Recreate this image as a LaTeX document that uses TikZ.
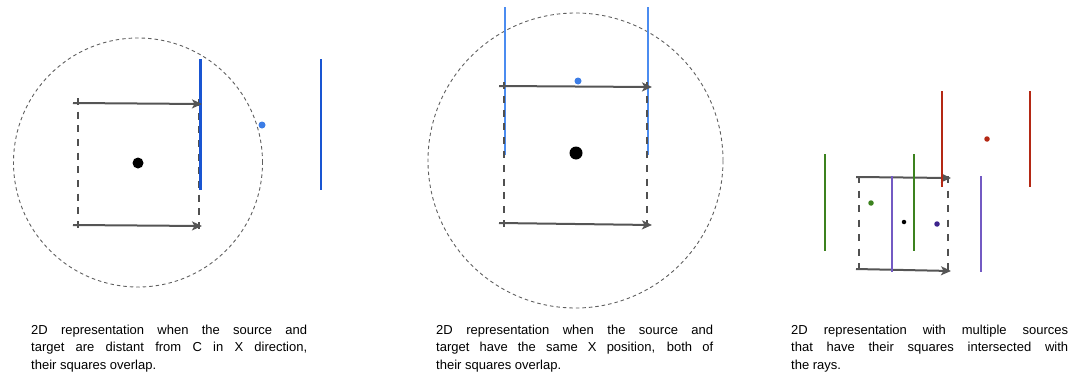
\documentclass[tikz,border=0pt]{standalone}
\usepackage{fontspec}
\setmainfont{Liberation Sans}
\usetikzlibrary{arrows.meta}
\definecolor{arrowgray}{RGB}{85,85,85}
\definecolor{dashgray}{RGB}{80,80,80}
\definecolor{circgray}{RGB}{95,95,95}
\definecolor{darkblue}{RGB}{25,85,210}
\definecolor{lightblue}{RGB}{75,140,240}
\definecolor{dotblue}{RGB}{60,125,230}
\definecolor{raygreen}{RGB}{60,130,30}
\definecolor{rayred}{RGB}{180,40,20}
\definecolor{raypurple}{RGB}{115,90,195}
\definecolor{dotpurple}{RGB}{60,35,140}
\tikzset{
 rangecirc/.style={draw=circgray, line width=0.9pt, dash pattern=on 3.5pt off 3pt, circle, inner sep=0pt},
 sqside/.style={draw=dashgray, line width=2pt, dash pattern=on 7pt off #1},
 sqside/.default=6.5pt,
 sqarrow/.style={draw=arrowgray, line width=2pt, -{Stealth[length=10pt,width=9pt,inset=2.5pt]}},
 rayline/.style={line width=2.2pt},
 dotnode/.style={circle, fill, inner sep=0pt},
 captext/.style={anchor=north west, inner sep=0pt, align=left, font=\fontsize{13}{17.3}\selectfont}
}
\begin{document}
\begin{tikzpicture}[x=1pt,y=-1pt]
\useasboundingbox (0,0) rectangle (1079,375);

% ---------------- panel 1 ----------------
\node[rangecirc, minimum size=249pt] (rng1) at (138,162.5) {};
\coordinate (s1tl) at (78,98);  \coordinate (s1bl) at (78,228);
\coordinate (s1tr) at (199,99); \coordinate (s1br) at (199,229);
\draw[sqside=6.67pt] (s1tl) -- (s1bl);
\draw[sqside=6.67pt] (s1tr) -- (s1br);
\coordinate (r1at) at (200.5,59); \coordinate (r1ab) at (200.5,190);
\coordinate (r1bt) at (321,59);   \coordinate (r1bb) at (321,190);
\draw[rayline, darkblue] (r1at) -- (r1ab);
\draw[rayline, darkblue] (r1bt) -- (r1bb);
\coordinate (a1s) at (73,103); \coordinate (a1e) at (202,104);
\coordinate (b1s) at (73,225); \coordinate (b1e) at (202,226);
\draw[sqarrow] (a1s) -- (a1e);
\draw[sqarrow] (b1s) -- (b1e);
\node[dotnode, fill=black, minimum size=11pt] (c1) at (138,163) {};
\node[dotnode, fill=dotblue, minimum size=7pt] (src1) at (262,125) {};

% ---------------- panel 2 ----------------
\node[rangecirc, minimum size=295pt] (rng2) at (575.5,160.5) {};
\coordinate (r2at) at (505,7);   \coordinate (r2ab) at (505,155);
\coordinate (r2bt) at (648,7);   \coordinate (r2bb) at (648,155);
\draw[rayline, lightblue] (r2at) -- (r2ab);
\draw[rayline, lightblue] (r2bt) -- (r2bb);
\coordinate (s2tl) at (504,82);  \coordinate (s2bl) at (504,227);
\coordinate (s2tr) at (647,82);  \coordinate (s2br) at (647,227);
\draw[sqside=6.8pt] (s2tl) -- (s2bl);
\draw[sqside=6.8pt] (s2tr) -- (s2br);
\coordinate (a2s) at (499,86);  \coordinate (a2e) at (652,87);
\coordinate (b2s) at (499,223); \coordinate (b2e) at (652,225);
\draw[sqarrow] (a2s) -- (a2e);
\draw[sqarrow] (b2s) -- (b2e);
\node[dotnode, fill=black, minimum size=13pt] (c2) at (576,153) {};
\node[dotnode, fill=dotblue, minimum size=7pt] (src2) at (578,81) {};

% ---------------- panel 3 ----------------
\coordinate (s3tl) at (859,176); \coordinate (s3bl) at (859,270);
\coordinate (s3tr) at (948,176); \coordinate (s3br) at (948,270);
\draw[sqside=7.5pt] (s3tl) -- (s3bl);
\draw[sqside=7.5pt] (s3tr) -- (s3br);
\coordinate (a3s) at (856,177); \coordinate (a3e) at (951,178);
\coordinate (b3s) at (856,269); \coordinate (b3e) at (951,271);
\draw[sqarrow] (a3s) -- (a3e);
\draw[sqarrow] (b3s) -- (b3e);
\coordinate (g1t) at (825,154); \coordinate (g1b) at (825,251);
\coordinate (g2t) at (914,154); \coordinate (g2b) at (914,251);
\coordinate (d1t) at (942,91);  \coordinate (d1b) at (942,187);
\coordinate (d2t) at (1030,91); \coordinate (d2b) at (1030,187);
\coordinate (p1t) at (892,176); \coordinate (p1b) at (892,272);
\coordinate (p2t) at (981,176); \coordinate (p2b) at (981,272);
\draw[rayline, raygreen, line width=1.8pt] (g1t) -- (g1b);
\draw[rayline, raygreen, line width=1.8pt] (g2t) -- (g2b);
\draw[rayline, rayred, line width=1.8pt] (d1t) -- (d1b);
\draw[rayline, rayred, line width=1.8pt] (d2t) -- (d2b);
\draw[rayline, raypurple, line width=1.8pt] (p1t) -- (p1b);
\draw[rayline, raypurple, line width=1.8pt] (p2t) -- (p2b);
\node[dotnode, fill=black, minimum size=4.5pt] (c3) at (904,222) {};
\node[dotnode, fill=raygreen, minimum size=5.5pt] (srcg) at (871,203) {};
\node[dotnode, fill=dotpurple, minimum size=5.5pt] (srcp) at (937,224) {};
\node[dotnode, fill=rayred, minimum size=5.5pt] (srcr) at (987,139) {};

% ---------------- captions ----------------
\node[captext] (cap1) at (31,325) {\makebox[276pt][s]{2D representation when the source and}\\\makebox[276pt][s]{target are distant from C in X direction,}\\their squares overlap.};
\node[captext] (cap2) at (436,325) {\makebox[277pt][s]{2D representation when the source and}\\\makebox[277pt][s]{target have the same X position, both of}\\their squares overlap.};
\node[captext] (cap3) at (791,325) {\makebox[277pt][s]{2D representation with multiple sources}\\\makebox[277pt][s]{that have their squares intersected with}\\the rays.};
\end{tikzpicture}
\end{document}
